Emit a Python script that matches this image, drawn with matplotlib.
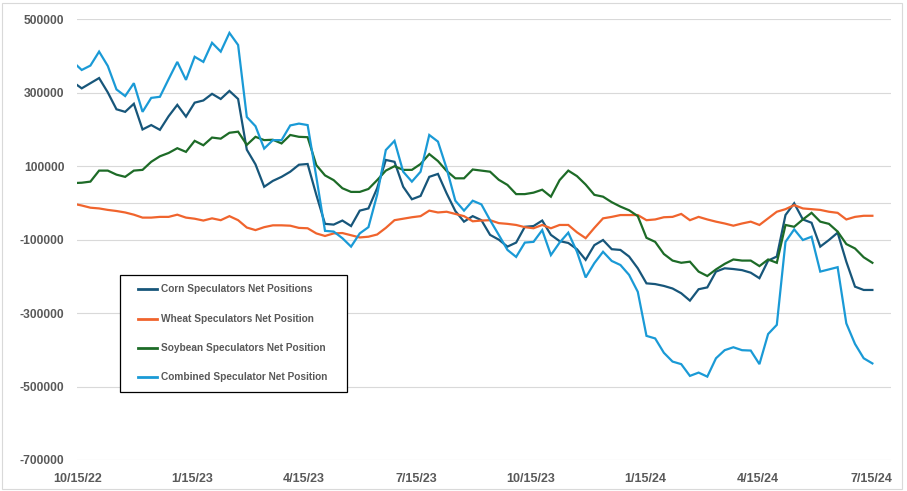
import matplotlib
matplotlib.use("Agg")
import matplotlib.pyplot as plt
import pandas as pd
from matplotlib.lines import Line2D
from matplotlib.patches import Rectangle

# ---------------- data (weekly, contracts) ----------------
dates = pd.date_range("2022-10-11", periods=93, freq="7D")

corn = [329000, 312000, 326000, 340000, 301000, 255000, 248000, 270000, 200000, 212000,
        199000, 236000, 267000, 235000, 273000, 279000, 297000, 283000, 305000, 283000,
        145000, 105000, 44000, 60000, 71000, 85000, 104000, 106000, 22000, -57000,
        -59000, -48000, -63000, -21000, -15000, 40000, 117000, 112000, 44000, 10000,
        19000, 71000, 79000, 26000, -22000, -51000, -36000, -47000, -87000, -100000,
        -119000, -108000, -65000, -63000, -48000, -87000, -104000, -109000, -126000, -155000,
        -115000, -101000, -126000, -128000, -146000, -178000, -219000, -221000, -226000, -233000,
        -246000, -266000, -235000, -230000, -187000, -178000, -180000, -183000, -190000, -205000,
        -157000, -146000, -33000, -1000, -45000, -54000, -119000, -101000, -81000, -160000,
        -228000, -237000, -237000]

wheat = [-2000, -7000, -13000, -15000, -19000, -22000, -26000, -32000, -40000, -40000,
         -38000, -38000, -32000, -40000, -43000, -48000, -42000, -47000, -36000, -47000,
         -67000, -74000, -66000, -61000, -61000, -62000, -68000, -69000, -83000, -90000,
         -83000, -82000, -88000, -94000, -92000, -86000, -68000, -47000, -43000, -39000,
         -36000, -21000, -26000, -24000, -30000, -36000, -50000, -48000, -47000, -55000,
         -57000, -60000, -66000, -69000, -60000, -69000, -60000, -60000, -80000, -96000,
         -68000, -42000, -38000, -33000, -33000, -33000, -47000, -45000, -39000, -38000,
         -30000, -47000, -38000, -45000, -51000, -56000, -62000, -56000, -51000, -60000,
         -42000, -24000, -17000, -6000, -15000, -17000, -19000, -24000, -27000, -45000,
         -38000, -35000, -35000]

soybean = [54000, 55000, 58000, 88000, 88000, 77000, 71000, 88000, 90000, 112000,
           127000, 136000, 149000, 139000, 169000, 157000, 178000, 175000, 191000, 194000,
           158000, 180000, 171000, 172000, 162000, 185000, 180000, 179000, 103000, 75000,
           62000, 40000, 30000, 30000, 38000, 62000, 88000, 100000, 90000, 90000,
           106000, 133000, 114000, 87000, 67000, 67000, 91000, 88000, 85000, 63000,
           49000, 24000, 24000, 28000, 36000, 17000, 62000, 88000, 73000, 50000,
           22000, 17000, 2000, -10000, -20000, -36000, -95000, -106000, -139000, -157000,
           -163000, -160000, -187000, -199000, -181000, -166000, -154000, -157000, -157000, -172000,
           -154000, -163000, -60000, -65000, -45000, -27000, -51000, -57000, -78000, -112000,
           -124000, -148000, -163000]

combined = [384000, 362000, 374000, 412000, 373000, 309000, 291000, 326000, 248000, 286000,
            289000, 337000, 384000, 335000, 398000, 384000, 436000, 412000, 463000, 430000,
            234000, 209000, 148000, 171000, 171000, 211000, 216000, 212000, 71000, -76000,
            -78000, -96000, -119000, -83000, -66000, 22000, 144000, 169000, 85000, 58000,
            85000, 185000, 167000, 94000, 6000, -21000, 6000, -4000, -47000, -87000,
            -128000, -147000, -108000, -106000, -74000, -142000, -108000, -81000, -133000, -203000,
            -164000, -133000, -158000, -169000, -196000, -242000, -362000, -369000, -408000, -432000,
            -439000, -471000, -462000, -473000, -423000, -401000, -393000, -401000, -402000, -439000,
            -357000, -332000, -106000, -72000, -101000, -92000, -187000, -181000, -175000, -328000,
            -384000, -423000, -437000]

series_names = ["Corn Speculators Net Positions", "Wheat Speculators Net Position",
                "Soybean Speculators Net Position", "Combined Speculator Net Position"]
series_colors = ["#17567A", "#F0642D", "#1D6B27", "#1A9AD6"]

y_ticks = [500000, 300000, 100000, -100000, -300000, -500000, -700000]
x_tick_dates = ["2022-10-15", "2023-01-15", "2023-04-15", "2023-07-15",
                "2023-10-15", "2024-01-15", "2024-04-15", "2024-07-15"]
x_tick_labels = ["10/15/22", "1/15/23", "4/15/23", "7/15/23",
                 "10/15/23", "1/15/24", "4/15/24", "7/15/24"]

# ---------------- figure ----------------
W, H = 907, 491
fig = plt.figure(figsize=(W / 100, H / 100), dpi=100)


def fx(x):
    return x / W


def fy(y):
    return 1 - y / H


FONT = "Liberation Sans"
TXT = "#595959"
GRID = "#D9D9D9"

# chart border
fig.add_artist(Rectangle((fx(2), fy(488.5)), (902 - 2) / W, (488.5 - 2.5) / H,
                         transform=fig.transFigure, fill=False, edgecolor=GRID, lw=0.8))

ax = fig.add_axes([fx(77), fy(460), (891 - 77) / W, (460 - 19.3) / H])

for vals, name, col in zip([corn, wheat, soybean, combined], series_names, series_colors):
    ax.plot(dates, vals, color=col, lw=1.6, label=name, solid_joinstyle="miter", zorder=3)

x0 = pd.Timestamp("2022-10-15")
ax.set_xlim(x0 - pd.Timedelta(days=0.8), x0 + pd.Timedelta(days=655))
ax.set_ylim(-700000, 500000)

ax.set_yticks(y_ticks)
ax.set_yticklabels([str(v) for v in y_ticks], fontfamily=FONT, fontweight="bold",
                   fontsize=8.7, color=TXT)
ax.set_xticks([pd.Timestamp(d) for d in x_tick_dates])
ax.set_xticklabels(x_tick_labels, fontfamily=FONT, fontweight="bold", fontsize=9, color=TXT)
ax.tick_params(axis="both", length=0)
ax.tick_params(axis="y", pad=9)
ax.tick_params(axis="x", pad=9)

ax.grid(axis="y", color=GRID, lw=0.8, zorder=0)
ax.grid(axis="x", visible=False)
ax.axhline(0, color=GRID, lw=0.8, zorder=1)
for s in ax.spines.values():
    s.set_visible(False)

# legend box (manual, positioned like the reference)
fig.add_artist(Rectangle((fx(120), fy(392.3)), (347 - 120) / W, (392.3 - 275) / H,
                         transform=fig.transFigure, facecolor="white", edgecolor="black",
                         lw=0.9, zorder=5))
rows = [289.3, 319.3, 348.3, 377.0]
for yy, name, col in zip(rows, series_names, series_colors):
    fig.add_artist(Line2D([fx(138), fx(157)], [fy(yy), fy(yy)], color=col, lw=2.0,
                          transform=fig.transFigure, zorder=6))
    fig.text(fx(161), fy(yy), name, ha="left", va="center", fontfamily=FONT,
             fontweight="bold", fontsize=7.3, color=TXT, zorder=6)

fig.savefig("out.png", dpi=100)
